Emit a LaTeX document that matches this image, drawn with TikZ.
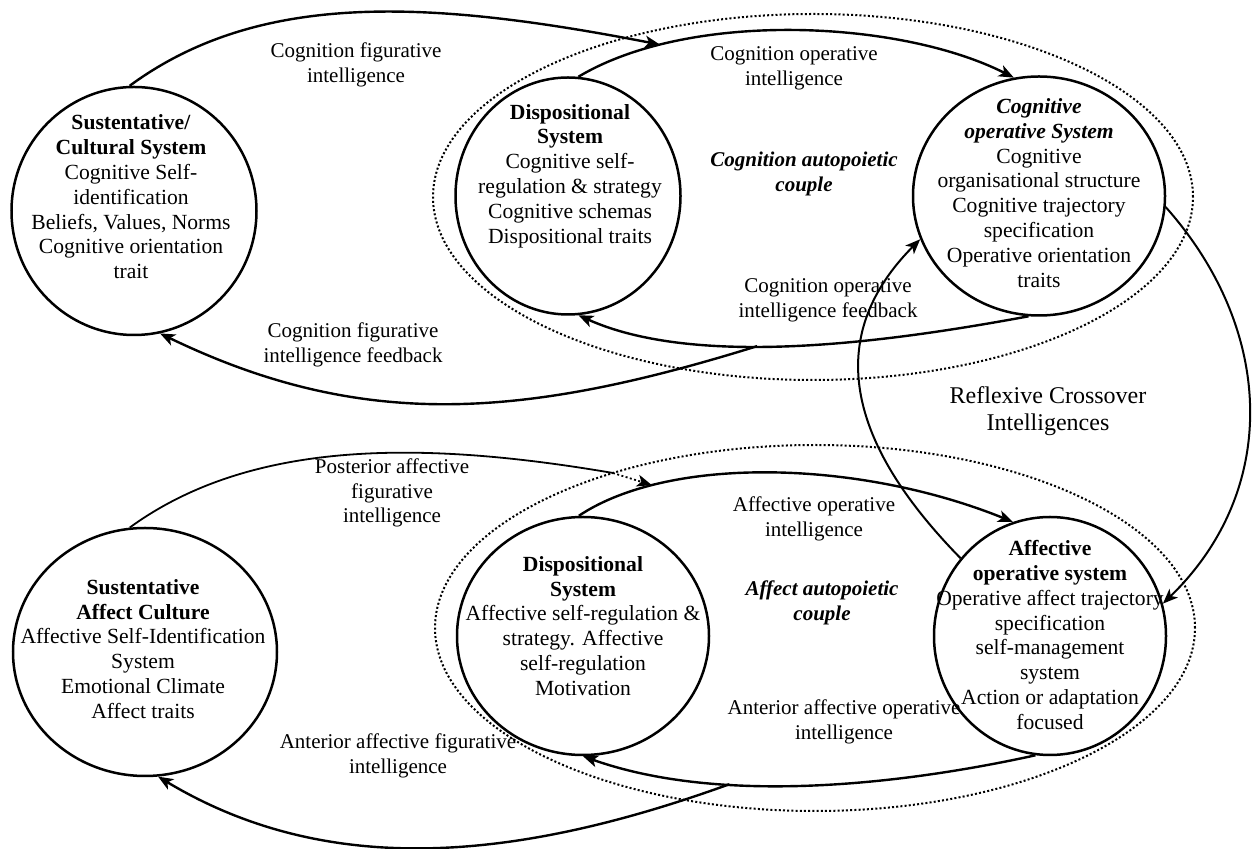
\documentclass[tikz,border=0pt]{standalone}
\usepackage{fontspec}
\setmainfont{Liberation Serif}
\usetikzlibrary{shapes.geometric,arrows.meta}

\tikzstyle{sysring}=[draw,ellipse,line width=1.25pt,inner sep=0pt]
\tikzstyle{couplering}=[draw,ellipse,line width=1pt,dash pattern=on 1pt off 1.1pt,inner sep=0pt,minimum width=380pt,minimum height=183pt]
\tikzstyle{systext}=[align=center,inner sep=0pt,font=\fontsize{10.8}{12.4}\selectfont]
\tikzstyle{flowtext}=[align=center,inner sep=0pt,font=\fontsize{10.5}{12.4}\selectfont]
\tikzstyle{coupletext}=[flowtext,font=\fontsize{10.5}{12.4}\selectfont\bfseries\itshape]
\tikzstyle{flow}=[draw,line width=1.2pt,-{Stealth[length=7.5pt,width=6pt,inset=2pt]}]
\tikzstyle{crossflow}=[flow,line width=1pt]

\begin{document}
\begin{tikzpicture}[x=0.5pt, y=-0.5pt]
    \useasboundingbox (0,0) rectangle (1254,849);
    % the two autopoietic couples
    \node[couplering] (cogcouple) at (813,197) {};
    \node[couplering] (affcouple) at (815,628) {};
    % First the system rings
    \foreach \pos/\name/\rx/\ry in {{(134,211)/cult/122.5pt/124pt}, {(568,196)/disp1/112.5pt/118.5pt},
        {(1039,196)/cogop/126pt/119.5pt}, {(145,652)/affcult/132pt/124pt},
        {(583,636)/disp2/126pt/119pt}, {(1050,636)/affop/116pt/119pt}}
        \node[sysring,minimum width=\rx,minimum height=\ry] (\name) at \pos {};
    % then what they hold
    \node[systext] (culttxt) at (131,197) {\textbf{Sustentative/}\\\textbf{Cultural System}\\Cognitive Self-\\identification\\Beliefs, Values, Norms\\Cognitive orientation\\trait};
    \node[systext] (disp1txt) at (570,176) {\textbf{Dispositional}\\\textbf{System}\\Cognitive self-\\regulation \& strategy\\Cognitive schemas\\Dispositional traits};
    \node[systext] (cogoptxt) at (1039,193) {\textbf{\textit{Cognitive}}\\\textbf{\textit{operative System}}\\Cognitive\\organisational structure\\Cognitive trajectory\\specification\\Operative orientation\\traits};
    \node[systext] (affculttxt) at (143,649) {\textbf{Sustentative}\\\textbf{Affect Culture}\\Affective Self-Identification\\System\\Emotional Climate\\Affect traits};
    \node[systext] (disp2txt) at (583,626) {\textbf{Dispositional}\\\textbf{System}\\Affective self-regulation \&\\strategy. Affective\\self-regulation\\Motivation};
    \node[systext] (affoptxt) at (1050,635) {\textbf{Affective}\\\textbf{operative system}\\Operative affect trajectory\\specification\\self-management\\system\\Action or adaptation\\focused};

    % cognition side
    \path[flow] (disp1.85) .. controls (690,10) and (900,20) .. (cogop.102) coordinate[pos=0.21] (cogmeet);
    \path[flow] (cult.92) .. controls (260,-10) and (430,0) .. (cogmeet);
    \path[flow] (cogop.265) .. controls (900,340) and (700,370) .. (disp1.275) coordinate[pos=0.59] (cogback);
    \path[flow] (cogback) .. controls (520,420) and (360,430) .. (cult.-78);

    % reflexive crossover
    \path[crossflow] (affop.139) .. controls (825,420) and (840,320) .. (cogop.200);
    \path[crossflow] (cogop.-5) .. controls (1275,330) and (1280,490) .. (affop.16);

    % affect side
    \path[flow] (disp2.92) .. controls (670,455) and (860,460) .. (affop.108) coordinate[pos=0.22] (affmeet);
    \coordinate (dotstart) at (613,473);
    \path[draw,line width=0.9pt] (affcult.97) .. controls (250,440) and (420,440) .. (dotstart);
    \path[flow,line width=0.9pt,dash pattern=on 1pt off 1.2pt] (dotstart) -- (affmeet);
    \path[flow] (affop.263) .. controls (900,785) and (720,805) .. (disp2.270) coordinate[pos=0.67] (affback);
    \path[flow] (affback) .. controls (520,860) and (330,880) .. (affcult.-84);

    % connector texts
    \node[flowtext] (cogfig) at (356,65) {Cognition figurative\\intelligence};
    \node[flowtext] (cogope) at (794,68) {Cognition operative\\intelligence};
    \node[coupletext] (cogauto) at (804,174) {Cognition autopoietic\\couple};
    \node[flowtext] (cogopefb) at (828,300) {Cognition operative\\intelligence feedback};
    \node[flowtext] (cogfigfb) at (353,345) {Cognition figurative\\intelligence feedback};
    \node[flowtext,font=\fontsize{12}{13.5}\selectfont] (cross) at (1048,411) {Reflexive Crossover\\Intelligences};
    \node[flowtext] (postfig) at (392,493) {Posterior affective\\figurative\\intelligence};
    \node[flowtext] (affope) at (814,519) {Affective operative\\intelligence};
    \node[coupletext] (affauto) at (822,603) {Affect autopoietic\\couple};
    \node[flowtext] (antope) at (844,722) {Anterior affective operative\\intelligence};
    \node[flowtext] (antfig) at (398,756) {Anterior affective figurative\\intelligence};
\end{tikzpicture}
\end{document}
